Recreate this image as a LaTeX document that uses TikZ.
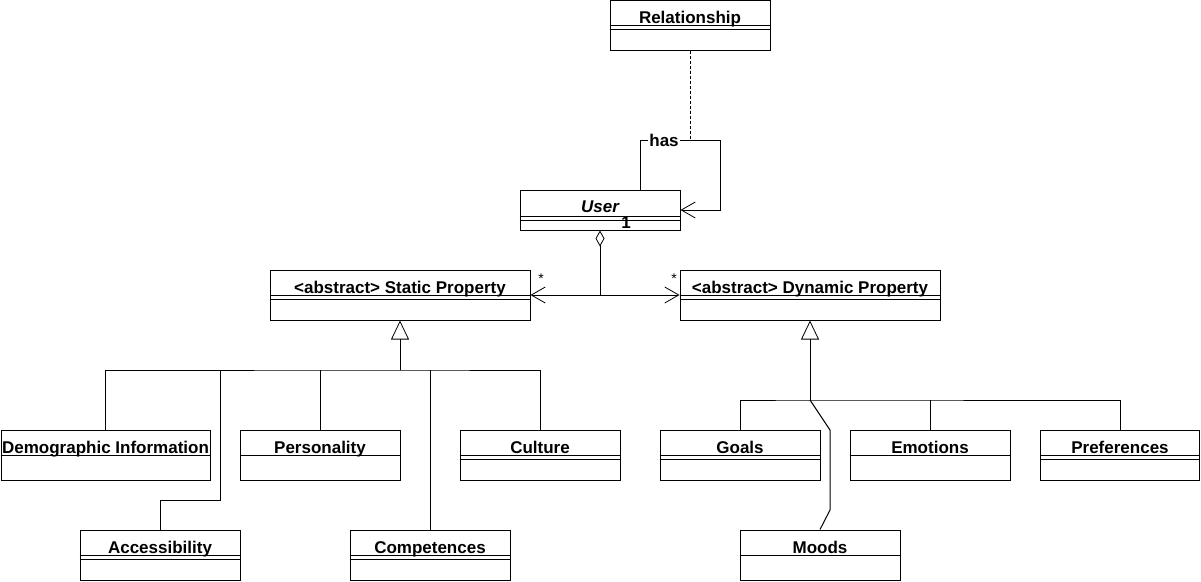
\documentclass[tikz,border=0pt]{standalone}
\usepackage{fontspec}
\setmainfont{Liberation Sans}
\usetikzlibrary{arrows.meta}

\begin{document}
\begin{tikzpicture}[x=1pt,y=-1pt,line width=1pt,
  cls/.style={draw,rectangle,inner sep=0pt,minimum height=50pt},
  title/.style={anchor=base,inner sep=0pt,font=\fontsize{17}{20}\selectfont\bfseries},
  lbl/.style={inner sep=1pt,font=\fontsize{17}{20}\selectfont\bfseries},
  star/.style={inner sep=0pt,font=\fontsize{14}{16}\selectfont},
  assoc/.style={-{Straight Barb[length=14pt,width=16pt,line width=.8pt]}},
  aggr/.style={{Diamond[open,length=16pt,width=9pt,line width=.8pt]}-},
  inh/.style={-{Triangle[open,length=19pt,width=18pt,line width=.8pt]}}]
\path[use as bounding box] (0,0) rectangle (1201,581);
% classes
\node[cls,minimum width=160pt] (rel) at (690,25) {};
\node[title] (relT) at ([yshift=-23.5]rel.north) {Relationship};
\draw ([yshift=-26]rel.north west) -- ([yshift=-26]rel.north east);
\draw ([yshift=-30]rel.north west) -- ([yshift=-30]rel.north east);
\node[cls,minimum width=160pt,minimum height=40pt] (user) at (600,210) {};
\node[title] (userT) at ([yshift=-22.5]user.north) {\itshape User};
\draw ([yshift=-27]user.north west) -- ([yshift=-27]user.north east);
\draw ([yshift=-31]user.north west) -- ([yshift=-31]user.north east);
\node[cls,minimum width=260pt] (static) at (400,295) {};
\node[title] (staticT) at ([yshift=-23.5]static.north) {<abstract> Static Property};
\draw ([yshift=-26]static.north west) -- ([yshift=-26]static.north east);
\draw ([yshift=-30]static.north west) -- ([yshift=-30]static.north east);
\node[cls,minimum width=260pt] (dyn) at (810,295) {};
\node[title] (dynT) at ([yshift=-23.5]dyn.north) {<abstract> Dynamic Property};
\draw ([yshift=-26]dyn.north west) -- ([yshift=-26]dyn.north east);
\draw ([yshift=-30]dyn.north west) -- ([yshift=-30]dyn.north east);
\node[cls,minimum width=209pt] (demo) at (105.5,455) {};
\node[title] (demoT) at ([yshift=-23.5]demo.north) {Demographic Information};
\draw ([yshift=-26]demo.north west) -- ([yshift=-26]demo.north east);
\node[cls,minimum width=160pt] (pers) at (320,455) {};
\node[title] (persT) at ([yshift=-23.5]pers.north) {Personality};
\draw ([yshift=-26]pers.north west) -- ([yshift=-26]pers.north east);
\node[cls,minimum width=160pt] (cult) at (540,455) {};
\node[title] (cultT) at ([yshift=-23.5]cult.north) {Culture};
\draw ([yshift=-26]cult.north west) -- ([yshift=-26]cult.north east);
\draw ([yshift=-30]cult.north west) -- ([yshift=-30]cult.north east);
\node[cls,minimum width=160pt] (acc) at (160,555) {};
\node[title] (accT) at ([yshift=-23.5]acc.north) {Accessibility};
\draw ([yshift=-26]acc.north west) -- ([yshift=-26]acc.north east);
\draw ([yshift=-30]acc.north west) -- ([yshift=-30]acc.north east);
\node[cls,minimum width=160pt] (comp) at (430,555) {};
\node[title] (compT) at ([yshift=-23.5]comp.north) {Competences};
\draw ([yshift=-26]comp.north west) -- ([yshift=-26]comp.north east);
\draw ([yshift=-30]comp.north west) -- ([yshift=-30]comp.north east);
\node[cls,minimum width=160pt] (goals) at (740,455) {};
\node[title] (goalsT) at ([yshift=-23.5]goals.north) {Goals};
\draw ([yshift=-26]goals.north west) -- ([yshift=-26]goals.north east);
\draw ([yshift=-30]goals.north west) -- ([yshift=-30]goals.north east);
\node[cls,minimum width=160pt] (emo) at (930,455) {};
\node[title] (emoT) at ([yshift=-23.5]emo.north) {Emotions};
\draw ([yshift=-26]emo.north west) -- ([yshift=-26]emo.north east);
\node[cls,minimum width=159pt] (pref) at (1120,455) {};
\node[title] (prefT) at ([yshift=-23.5]pref.north) {Preferences};
\draw ([yshift=-26]pref.north west) -- ([yshift=-26]pref.north east);
\draw ([yshift=-30]pref.north west) -- ([yshift=-30]pref.north east);
\node[cls,minimum width=160pt] (moods) at (820,555) {};
\node[title] (moodsT) at ([yshift=-23.5]moods.north) {Moods};
\draw ([yshift=-26]moods.north west) -- ([yshift=-26]moods.north east);
% self association of User
\draw[assoc] ([xshift=40]user.north) |- (720,140) coordinate (hasR) |- (user.east);
\coordinate (hasM) at (690,140);
\node[lbl,fill=white] (has) at (664,140) {has};
\draw[dashed,line width=.6pt,dash pattern=on 3pt off 2pt] (rel.south) -- (hasM);
\node[lbl] (one) at (626,223) {1};
% aggregation
\coordinate (aggJ) at (600,295);
\draw[aggr] (user.south) -- (aggJ);
\draw[assoc] (aggJ) -- (static.east);
\draw[assoc] (aggJ) -- (dyn.west);
\node[star] (starS) at (541,279) {*};
\node[star] (starD) at (674,279) {*};
% static generalisation
\coordinate (sJ) at (400,370);
\draw[inh] (sJ) -- (static.south);
\draw (demo.north) |- (sJ) -| (cult.north);
\draw (pers.north) -- (pers.north |- sJ);
\draw (comp.north) -- (comp.north |- sJ);
\draw (acc.north) |- (220,500) -- (220,370);
% dynamic generalisation
\coordinate (dJ) at (810,400);
\draw[inh] (dJ) -- (dyn.south);
\draw (goals.north) |- (dJ) -| (pref.north);
\draw (emo.north) -- (emo.north |- dJ);
\draw (dJ) -- (830,430) -- (830,510) -- (moods.north);
\end{tikzpicture}
\end{document}
